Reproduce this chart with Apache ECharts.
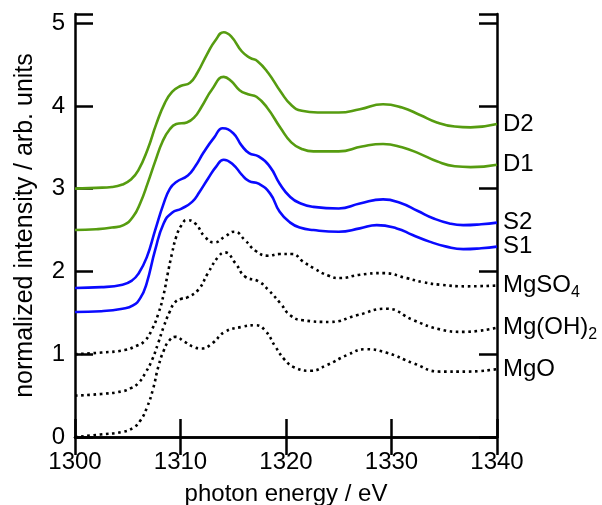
<!DOCTYPE html>
<html>
<head>
<meta charset="utf-8">
<script src="https://cdn.jsdelivr.net/npm/echarts@6/dist/echarts.min.js"></script>
<style>html,body{margin:0;padding:0;background:#fff}#c{width:602px;height:505px}</style>
</head>
<body>
<div id="c"></div>
<script>
// Tick values
const xTicks = [1300, 1310, 1320, 1330, 1340];
const yTicks = [0, 1, 2, 3, 4, 5];

// D2
const d2X = [1300,1302,1303.5,1304.5,1305.3,1306,1306.9,1307.7,1308.5,1309.2,1310,1310.9,1311.6,1312.5,1313.3,1314.1,1314.8,1315.8,1316.6,1317.3,1318.3,1319.5,1320.5,1321.5,1323,1325,1327,1329.2,1331,1332.7,1334.3,1336,1337.5,1340];
const d2Y = [3.00,3.01,3.02,3.05,3.11,3.22,3.48,3.78,4.03,4.17,4.24,4.28,4.40,4.62,4.79,4.89,4.84,4.66,4.58,4.54,4.40,4.17,4.01,3.94,3.92,3.92,3.96,4.02,3.98,3.89,3.80,3.75,3.74,3.78];
// D1
const d1X = [1300,1302,1303.5,1304.6,1305.5,1306.2,1306.9,1307.6,1308.3,1309,1309.6,1310.6,1311.3,1312,1313,1314.1,1314.8,1315.6,1316.4,1317.2,1318.2,1319.5,1320.5,1321.5,1322.6,1325,1327.2,1329.2,1331,1332.7,1334.3,1336,1337.5,1340];
const d1Y = [2.50,2.51,2.53,2.56,2.66,2.83,3.07,3.33,3.57,3.72,3.78,3.80,3.86,3.99,4.20,4.35,4.30,4.19,4.14,4.11,3.98,3.73,3.56,3.48,3.45,3.45,3.51,3.54,3.50,3.42,3.33,3.27,3.26,3.29];
// S2
const s2X = [1300,1302.5,1304.5,1305.4,1306,1306.8,1307.6,1308.4,1309,1309.6,1310.7,1311.4,1312.2,1313.2,1314,1315,1315.8,1316.5,1317.4,1318.5,1319.4,1320.4,1321.4,1322.6,1325,1327,1329.2,1330.8,1332.5,1334,1335.5,1336.8,1338.5,1340];
const s2Y = [1.80,1.81,1.84,1.89,1.97,2.17,2.50,2.82,3.00,3.08,3.16,3.27,3.44,3.62,3.73,3.67,3.52,3.43,3.39,3.26,3.06,2.90,2.82,2.78,2.76,2.82,2.87,2.83,2.73,2.64,2.58,2.56,2.57,2.59];
// S1
const s1X = [1300,1302.5,1304.5,1305.5,1306.2,1306.8,1307.6,1308.4,1309.2,1310.1,1311.1,1311.8,1312.6,1313.4,1314.1,1315,1315.8,1316.5,1317.4,1318.5,1319.4,1320.4,1321.3,1322.6,1325,1327,1328.6,1330.5,1332,1333.6,1335.2,1336.8,1338.5,1340];
const s1Y = [1.51,1.52,1.55,1.59,1.68,1.86,2.26,2.58,2.71,2.76,2.84,2.96,3.12,3.27,3.35,3.29,3.17,3.09,3.06,2.94,2.72,2.59,2.53,2.50,2.48,2.52,2.56,2.52,2.44,2.36,2.30,2.27,2.28,2.30];
// MgSO4
const mgso4X = [1300,1302.5,1304.7,1305.8,1306.6,1307.3,1307.9,1308.4,1308.8,1309.2,1309.6,1310.1,1310.6,1311.4,1312.3,1313.2,1314.2,1315.1,1316.1,1317.1,1318.3,1319.4,1320.6,1321.6,1322.6,1324,1325.1,1327,1329.2,1331.4,1333,1334.6,1337.1,1340];
const mgso4Y = [1.00,1.02,1.05,1.10,1.16,1.30,1.49,1.72,1.98,2.22,2.42,2.56,2.62,2.58,2.42,2.35,2.42,2.48,2.38,2.25,2.19,2.21,2.21,2.12,2.04,1.95,1.92,1.96,1.98,1.92,1.87,1.84,1.82,1.83];
// Mg(OH)2
const mgoh2X = [1300,1302.5,1304.4,1305.3,1306,1306.7,1307.3,1307.9,1308.4,1309,1309.5,1310.1,1310.7,1311.7,1312.6,1313.6,1314.2,1315.2,1316.1,1317.4,1318.3,1319.5,1320.4,1321.6,1324.2,1326.7,1329.5,1332.1,1334.6,1336.8,1340];
const mgoh2Y = [0.50,0.52,0.55,0.59,0.65,0.78,0.93,1.14,1.33,1.52,1.63,1.67,1.69,1.78,1.98,2.18,2.23,2.10,1.94,1.88,1.78,1.61,1.47,1.41,1.39,1.47,1.55,1.41,1.30,1.27,1.32];
// MgO
const mgoX = [1300,1302.4,1304.4,1305.5,1306.2,1306.8,1307.4,1307.9,1308.4,1308.9,1309.5,1310.4,1311.2,1312,1313,1314.2,1315.8,1317.1,1318,1319,1319.9,1320.8,1322.3,1323.9,1325.8,1327.5,1329.5,1332.1,1334.6,1337.1,1340];
const mgoY = [0.00,0.03,0.06,0.11,0.20,0.35,0.58,0.85,1.04,1.16,1.21,1.15,1.09,1.07,1.13,1.27,1.33,1.35,1.29,1.09,0.93,0.84,0.80,0.87,0.99,1.06,1.02,0.89,0.79,0.79,0.82];

const seriesNames = ['D2','D1','S2','S1','MgSO4','Mg(OH)2','MgO'];
const labelTexts = ['D2','D1','S2','S1','{m|MgSO}{s|4}','{m|Mg(OH)}{s|2}','MgO'];

const FONT = 'Liberation Sans, Arial, sans-serif';
const GREEN = '#569c10';
const BLUE = '#0a0aff';
const BLACK = '#000000';

function zip(xs, ys){ return xs.map((x,i)=>[x, ys[i]]); }

const dataSets = [zip(d2X,d2Y), zip(d1X,d1Y), zip(s2X,s2Y), zip(s1X,s1Y), zip(mgso4X,mgso4Y), zip(mgoh2X,mgoh2Y), zip(mgoX,mgoY)];
const colors = [GREEN, GREEN, BLUE, BLUE, BLACK, BLACK, BLACK];
const dotted = [false,false,false,false,true,true,true];

const series = dataSets.map((d, i) => ({
  name: seriesNames[i],
  type: 'line',
  data: d,
  smooth: 0.5,
  symbol: 'none',
  z: 3,
  lineStyle: {
    color: colors[i],
    width: 2.6,
    type: dotted[i] ? [2.6, 3.6] : 'solid',
    cap: 'butt'
  },
  endLabel: {
    show: true,
    formatter: labelTexts[i],
    distance: 6,
    color: '#000',
    fontFamily: FONT,
    fontSize: 24,
    rich: {
      m: { fontFamily: FONT, fontSize: 24, color: '#000' },
      s: { fontFamily: FONT, fontSize: 16, color: '#000', padding: [14, 0, 0, 0] }
    }
  }
}));

const axisCommon = {
  type: 'value',
  axisLine: { show: true, lineStyle: { color: '#000', width: 2.5 } },
  axisTick: { show: true, inside: true, length: 18, lineStyle: { color: '#000', width: 2.5 } },
  splitLine: { show: false }
};

const chart = echarts.init(document.getElementById('c'), null, { renderer: 'canvas' });
chart.setOption({
  backgroundColor: '#fff',
  animation: false,
  grid: { left: 75, right: 105, top: 14, bottom: 68, containLabel: false, outerBoundsMode: 'none' },
  xAxis: [
    Object.assign({}, axisCommon, {
      position: 'bottom', min: xTicks[0], max: xTicks[xTicks.length-1], interval: 10,
      name: 'photon energy / eV', nameLocation: 'middle', nameGap: 45,
      nameTextStyle: { fontFamily: FONT, fontSize: 24, color: '#000' },
      axisLabel: { show: true, margin: 13, fontFamily: FONT, fontSize: 24, color: '#000',
        formatter: v => String(v) }
    }),
    Object.assign({}, axisCommon, {
      position: 'top', min: xTicks[0], max: xTicks[xTicks.length-1], interval: 10,
      axisLabel: { show: false }
    })
  ],
  yAxis: [
    Object.assign({}, axisCommon, {
      position: 'left', min: yTicks[0], max: 5.11, interval: 1,
      name: 'normalized intensity / arb. units', nameLocation: 'middle', nameGap: 37,
      nameTextStyle: { fontFamily: FONT, fontSize: 25, color: '#000' },
      axisLabel: { show: true, margin: 10, fontFamily: FONT, fontSize: 24, color: '#000',
        formatter: v => (yTicks.indexOf(v) >= 0 ? String(v) : '') }
    }),
    Object.assign({}, axisCommon, {
      position: 'right', min: yTicks[0], max: 5.11, interval: 1,
      axisLabel: { show: false }
    })
  ],
  series: series
});
</script>
</body>
</html>
